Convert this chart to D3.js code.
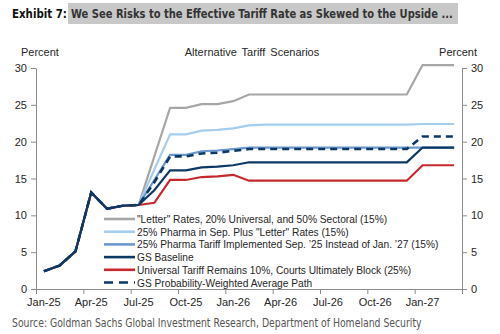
<!DOCTYPE html>
<html>
<head>
<meta charset="utf-8">
<script src="https://cdn.jsdelivr.net/npm/d3@7"></script>
<style>
  html, body { margin: 0; padding: 0; background: #fff; }
  svg { display: block; font-family: "Liberation Sans", Arial, sans-serif; }
</style>
</head>
<body>
<svg id="chart" width="500" height="334"></svg>
<script>
// Monthly path of the effective tariff rate, Jan-25 through Mar-27 (percent)
const months = ["Jan-25","Feb-25","Mar-25","Apr-25","May-25","Jun-25","Jul-25","Aug-25","Sep-25","Oct-25","Nov-25","Dec-25",
                "Jan-26","Feb-26","Mar-26","Apr-26","May-26","Jun-26","Jul-26","Aug-26","Sep-26","Oct-26","Nov-26","Dec-26",
                "Jan-27","Feb-27","Mar-27"];

// Realised history shared by all scenarios (Jan-25 .. Jul-25)
const history = [2.4, 3.2, 5.1, 13.1, 10.9, 11.3, 11.4];

// Scenario paths from Aug-25 onward
const letterRates   = [18.0, 24.6, 24.6, 25.1, 25.1, 25.5, 26.4, 26.4, 26.4, 26.4, 26.4, 26.4, 26.4, 26.4, 26.4, 26.4, 26.4, 30.4, 30.4, 30.4];
const pharmaSep     = [16.2, 21.0, 21.0, 21.5, 21.6, 21.8, 22.2, 22.3, 22.3, 22.3, 22.3, 22.3, 22.3, 22.3, 22.3, 22.3, 22.3, 22.4, 22.4, 22.4];
const pharmaEarly   = [14.8, 18.2, 18.2, 18.7, 18.8, 19.0, 19.2, 19.2, 19.2, 19.2, 19.2, 19.2, 19.2, 19.2, 19.2, 19.2, 19.2, 19.2, 19.2, 19.2];
const baseline      = [13.4, 16.1, 16.1, 16.5, 16.6, 16.8, 17.2, 17.2, 17.2, 17.2, 17.2, 17.2, 17.2, 17.2, 17.2, 17.2, 17.2, 19.2, 19.2, 19.2];
const courtsBlock   = [11.7, 14.8, 14.8, 15.2, 15.3, 15.5, 14.7, 14.7, 14.7, 14.7, 14.7, 14.7, 14.7, 14.7, 14.7, 14.7, 14.7, 16.8, 16.8, 16.8];
const probWeighted  = [14.5, 18.0, 18.0, 18.4, 18.5, 18.75, 19.0, 19.0, 19.0, 19.0, 19.0, 19.0, 19.0, 19.0, 19.0, 19.0, 19.0, 20.7, 20.7, 20.7];

const seriesNames = [
  "\"Letter\" Rates, 20% Universal, and 50% Sectoral (15%)",
  "25% Pharma in Sep. Plus \"Letter\" Rates (15%)",
  "25% Pharma Tariff Implemented Sep. \u201925 Instead of Jan. \u201927 (15%)",
  "GS Baseline",
  "Universal Tariff Remains 10%, Courts Ultimately Block (25%)",
  "GS Probability-Weighted Average Path"
];
const yTicks = [0, 5, 10, 15, 20, 25, 30];
const xLabelMonths = ["Jan-25","Apr-25","Jul-25","Oct-25","Jan-26","Apr-26","Jul-26","Oct-26","Jan-27"];

const series = [
  { name: seriesNames[0], values: history.concat(letterRates),  color: "#a6a6a6", dash: null },
  { name: seriesNames[1], values: history.concat(pharmaSep),    color: "#a4cdee", dash: null },
  { name: seriesNames[2], values: history.concat(pharmaEarly),  color: "#6b98cf", dash: null },
  { name: seriesNames[3], values: history.concat(baseline),     color: "#0c3866", dash: null },
  { name: seriesNames[4], values: history.concat(courtsBlock),  color: "#c6282d", dash: null },
  { name: seriesNames[5], values: history.concat(probWeighted), color: "#0c3866", dash: "7,5" }
];
// Drawing order: navy baseline and dashed path on top
const drawOrder = [0, 1, 2, 4, 3, 5];

const svg = d3.select("#chart");
const plot = { left: 36, right: 462, top: 68, bottom: 289 };

const x = d3.scaleBand().domain(months).range([plot.left, plot.right]).paddingInner(0).paddingOuter(0);
const xEdge = d3.scaleLinear().domain([0, months.length]).range([plot.left, plot.right]);
const y = d3.scaleLinear().domain([0, 30]).range([plot.bottom, plot.top]);
const cx = m => x(m) + x.bandwidth() / 2;

const axisColor = "#8c8c8c";
const textColor = "#262626";
const condensed = "'DejaVu Sans Condensed', 'DejaVu Sans', Arial, sans-serif";

// Narrow text: shrink the font to the wanted width, then stretch it back vertically
function narrowText(parent, str, x0, yBase, width, size, attrs) {
  const g = parent.append("g");
  const t = g.append("text").attr("font-family", condensed).attr("font-size", size).text(str);
  Object.entries(attrs).forEach(([k, v]) => t.attr(k, v));
  const natural = t.node().getComputedTextLength();
  const fs = size * width / natural;
  t.attr("font-size", fs);
  g.attr("transform", `translate(${x0},${yBase}) scale(1,${size / fs})`);
  return t;
}

// Title with highlighted lead
svg.append("rect").attr("x", 68).attr("y", 3).attr("width", 390).attr("height", 21).attr("fill", "#c8c8c8");
narrowText(svg, "Exhibit 7:", 12, 18, 55, 12.5, { "font-weight": "bold", fill: "#111" });
narrowText(svg, "We See Risks to the Effective Tariff Rate as Skewed to the Upside ...", 71, 18, 382, 12.5,
  { "font-weight": "bold", fill: "#333" });

// Axis captions
svg.append("text").attr("x", 21).attr("y", 56).attr("font-size", 11).attr("fill", textColor).text("Percent");
svg.append("text").attr("x", 477).attr("y", 56).attr("font-size", 11).attr("fill", textColor)
  .attr("text-anchor", "end").text("Percent");
svg.append("text").attr("x", 252).attr("y", 56).attr("font-size", 11).attr("fill", textColor)
  .attr("text-anchor", "middle").attr("word-spacing", 2).text("Alternative Tariff Scenarios");

// Y axes (left and right)
const yLeft = svg.append("g").attr("transform", `translate(${plot.left},0)`)
  .call(d3.axisLeft(y).tickValues(yTicks).tickSize(5).tickPadding(4).tickSizeOuter(0));
const yRight = svg.append("g").attr("transform", `translate(${plot.right},0)`)
  .call(d3.axisRight(y).tickValues(yTicks).tickSize(5).tickPadding(4).tickSizeOuter(0));

// X axis: tick marks on quarter boundaries, labels centred on the quarter's first month
const quarterEdges = d3.range(0, months.length + 1, 3);
const xMarks = svg.append("g").attr("transform", `translate(0,${plot.bottom})`)
  .call(d3.axisBottom(xEdge).tickValues(quarterEdges).tickSize(5).tickFormat("").tickSizeOuter(0));
const xLabels = svg.append("g").attr("transform", `translate(0,${plot.bottom})`)
  .call(d3.axisBottom(x).tickValues(xLabelMonths).tickSize(0).tickPadding(9));
xLabels.select(".domain").remove();

[yLeft, yRight, xMarks, xLabels].forEach(g => {
  g.selectAll(".domain").attr("stroke", axisColor);
  g.selectAll(".tick line").attr("stroke", axisColor);
  g.selectAll(".tick text").attr("font-size", 11).attr("fill", textColor)
    .attr("font-family", "'Liberation Sans', Arial, sans-serif");
});

// Lines
const line = d3.line().x((d, i) => cx(months[i])).y(d => y(d));
drawOrder.forEach(k => {
  const s = series[k];
  svg.append("path")
    .datum(s.values)
    .attr("fill", "none")
    .attr("stroke", s.color)
    .attr("stroke-width", s.dash ? 2.6 : 2.2)
    .attr("stroke-dasharray", s.dash)
    .attr("stroke-linejoin", "miter")
    .attr("d", line);
});

// Legend
const legend = svg.append("g").attr("transform", "translate(104,219)");
series.forEach((s, i) => {
  const g = legend.append("g").attr("transform", `translate(0,${i * 12.7})`);
  g.append("line").attr("x1", 0).attr("x2", 31).attr("y1", 0).attr("y2", 0)
    .attr("stroke", s.color).attr("stroke-width", 2.6)
    .attr("stroke-dasharray", s.dash ? "9,6" : null);
  g.append("text").attr("x", 33).attr("y", 4).attr("font-size", 10.2).attr("fill", textColor).text(s.name);
});

// Source line
narrowText(svg, "Source: Goldman Sachs Global Investment Research, Department of Homeland Security", 12, 327, 410, 11.5,
  { fill: "#555" });
</script>
</body>
</html>
